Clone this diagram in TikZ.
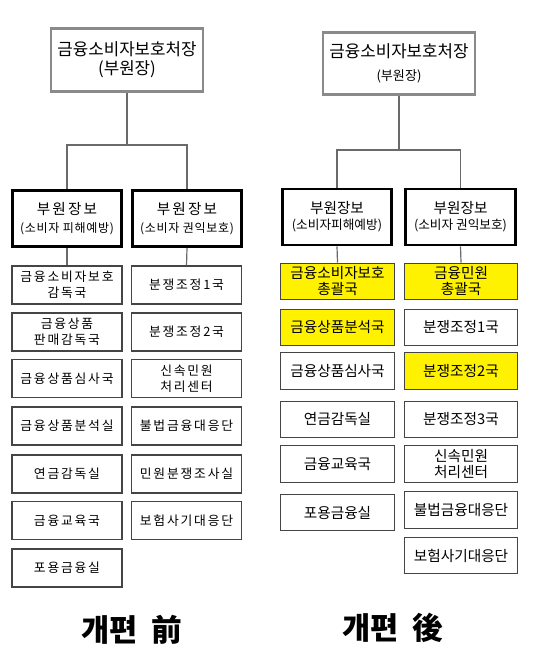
\documentclass[tikz,border=0pt]{standalone}
\usepackage{fontspec}
\setmainfont{Noto Sans CJK KR}
\newfontfamily\kl[LetterSpace=14]{Noto Sans CJK KR}
\newfontfamily\klt[LetterSpace=6]{Noto Sans CJK KR}
\newfontfamily\kr{Noto Sans CJK KR}
\definecolor{conn}{HTML}{6A6A6A}
\definecolor{bord}{HTML}{454545}
\definecolor{topb}{HTML}{8A8A8A}
\tikzset{
  topbox/.style={draw=topb, line width=2.2pt, fill=white, inner sep=0pt, align=center, minimum width=114pt, minimum height=47pt},
  midbox/.style={draw=black, line width=2.2pt, fill=white, inner sep=0pt, align=center, minimum width=82pt, minimum height=42pt},
  leafL/.style={draw=bord, line width=0.9pt, fill=white, inner sep=0pt, align=center, minimum width=82.5pt, minimum height=28.5pt, font=\kl\fontsize{9.6}{12}\selectfont},
  leafR/.style={draw=bord, line width=0.9pt, fill=white, inner sep=0pt, align=center, minimum width=85pt, minimum height=27.5pt, font=\kr\fontsize{11}{12}\selectfont},
  hl/.style={fill=yellow},
  conline/.style={draw=conn, line width=0.9pt},
  ttl/.style={font=\bfseries\fontsize{23}{25}\selectfont}
}
\begin{document}
\begin{tikzpicture}[x=0.75pt,y=-0.75pt]
\useasboundingbox (0,0) rectangle (550,648);
% ---------- before ----------
\node[topbox] (ltop) at (127,60) {\fontsize{12.6}{15}\selectfont 금융소비자보호처장\\[2.5pt]\fontsize{12.6}{15}\selectfont (부원장)};
\coordinate (lbus) at (127,145);
\node[midbox] (l2a) at (67,218.5) {\kl\fontsize{11}{13}\selectfont 부원장보\\[1pt]\klt\fontsize{9}{11}\selectfont (소비자 피해예방)};
\node[midbox] (l2b) at (187,218.5) {\kl\fontsize{11}{13}\selectfont 부원장보\\[1pt]\klt\fontsize{9}{11}\selectfont (소비자 권익보호)};
\node[leafL] (la1) at (67,285) {금융소비자보호\\감독국};
\node[leafL] (la2) at (67,332) {금융상품\\판매감독국};
\node[leafL] (la3) at (67,378.5) {금융상품심사국};
\node[leafL] (la4) at (67,426) {금융상품분석실};
\node[leafL] (la5) at (67,474) {연금감독실};
\node[leafL] (la6) at (67,520.5) {금융교육국};
\node[leafL] (la7) at (67,568) {포용금융실};
\node[leafL] (lb1) at (186.5,285) {분쟁조정1국};
\node[leafL] (lb2) at (186.5,332) {분쟁조정2국};
\node[leafL] (lb3) at (186.5,378.5) {신속민원\\처리센터};
\node[leafL] (lb4) at (186.5,426) {불법금융대응단};
\node[leafL] (lb5) at (186.5,474) {민원분쟁조사실};
\node[leafL] (lb6) at (186.5,520.5) {보험사기대응단};
\draw[conline] (ltop.south) -- (lbus);
\draw[conline] (l2a.north) |- (lbus) -| (l2b.north);
\draw[conline] (l2a.south) -- (la1.north);
\draw[conline] (l2b.south) -- (lb1.north);
\node[ttl] (lt) at (132,630) {개편\hspace{0.45em}前};
% ---------- after ----------
\node[topbox] (rtop) at (399,63.5) {\fontsize{12.6}{16}\selectfont 금융소비자보호처장\\[5pt]\fontsize{9.8}{12}\selectfont (부원장)};
\coordinate (rbus) at (399,150);
\node[midbox] (r2a) at (337,217) {\kr\fontsize{11}{14}\selectfont 부원장보\\[0pt]\kr\fontsize{9.5}{12}\selectfont (소비자피해예방)};
\node[midbox] (r2b) at (460.5,217) {\kr\fontsize{11}{14}\selectfont 부원장보\\[0pt]\kr\fontsize{9.5}{12}\selectfont (소비자 권익보호)};
\node[leafR,hl] (ra1) at (337.5,281.5) {금융소비자보호\\총괄국};
\node[leafR,hl] (ra2) at (337.5,327.5) {금융상품분석국};
\node[leafR] (ra3) at (337.5,371) {금융상품심사국};
\node[leafR] (ra4) at (337.5,419.5) {연금감독실};
\node[leafR] (ra5) at (337.5,464) {금융교육국};
\node[leafR] (ra6) at (337.5,512.5) {포용금융실};
\node[leafR,hl] (rb1) at (461,281.5) {금융민원\\총괄국};
\node[leafR] (rb2) at (461,327.5) {분쟁조정1국};
\node[leafR,hl] (rb3) at (461,371) {분쟁조정2국};
\node[leafR] (rb4) at (461,419.5) {분쟁조정3국};
\node[leafR] (rb5) at (461,464) {신속민원\\처리센터};
\node[leafR] (rb6) at (461,510) {불법금융대응단};
\node[leafR] (rb7) at (461,555.5) {보험사기대응단};
\draw[conline] (rtop.south) -- (rbus);
\draw[conline] (r2a.north) |- (rbus) -| (r2b.north);
\draw[conline] (r2a.south) -- (ra1.north);
\draw[conline] (r2b.south) -- (rb1.north);
\node[ttl] (rt) at (393,628) {개편\hspace{0.45em}後};
\end{tikzpicture}
\end{document}
